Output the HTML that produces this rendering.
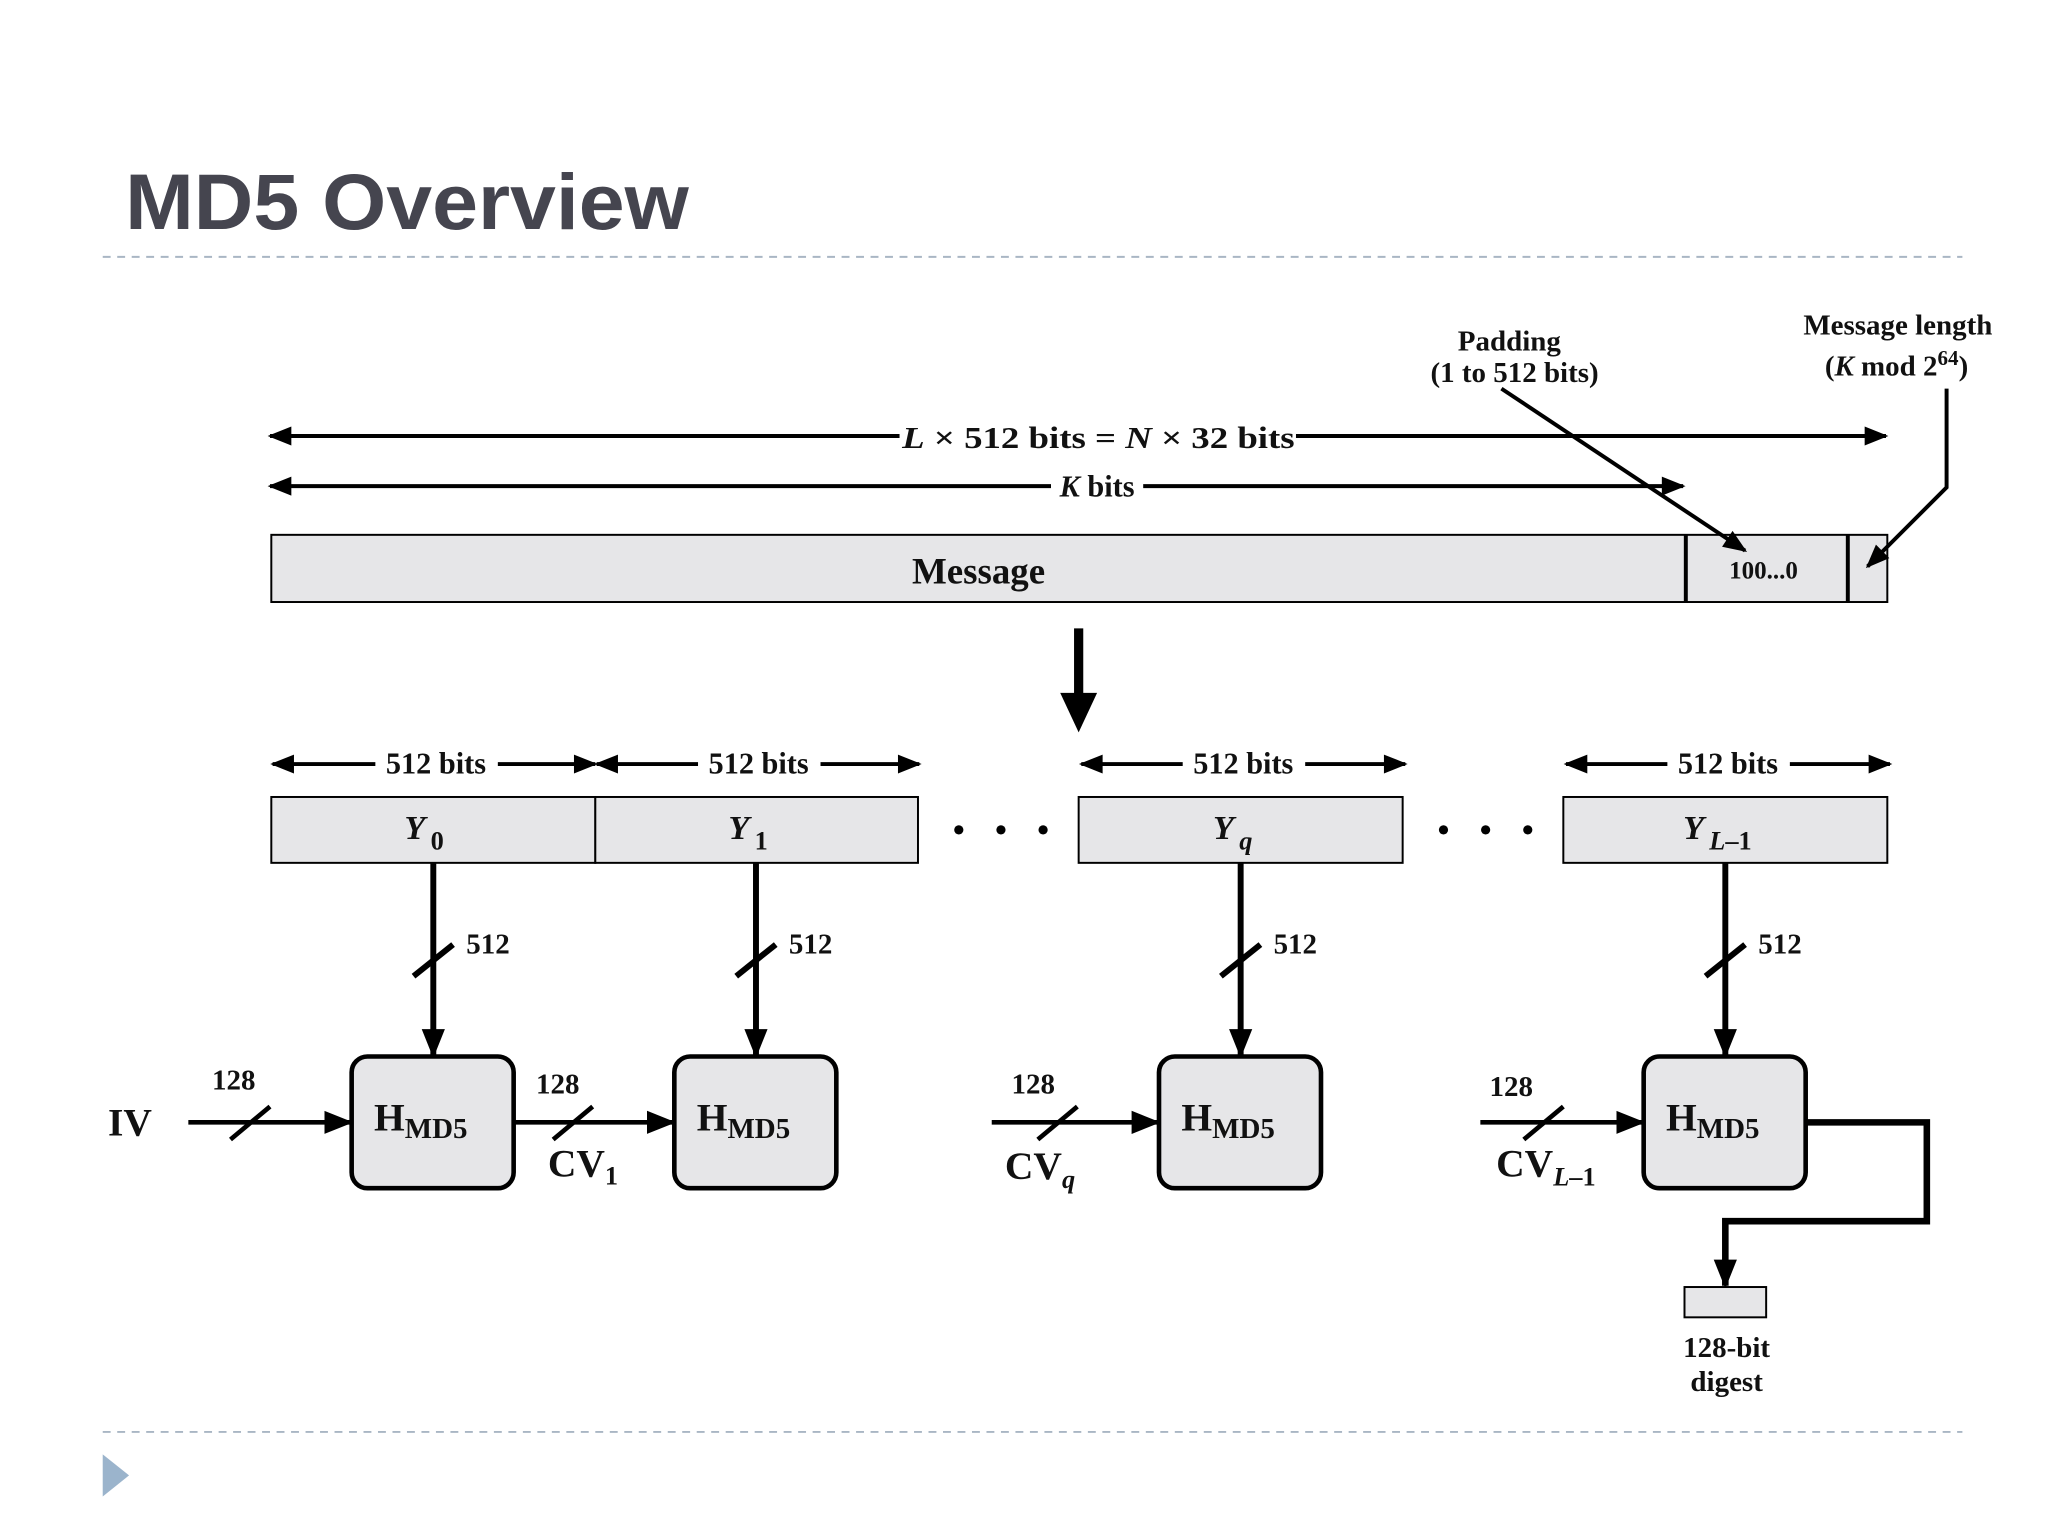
<!DOCTYPE html>
<html><head><meta charset="utf-8"><style>
html,body{margin:0;padding:0;background:#fff;}
svg{display:block;}
.t{font-family:"Liberation Serif",serif;font-weight:bold;fill:#111;}
</style></head><body>
<svg width="2048" height="1536" viewBox="0 0 1555 1166" preserveAspectRatio="none" xmlns="http://www.w3.org/2000/svg">
<defs>
<marker id="a" viewBox="0 0 10 10" refX="9" refY="5" markerWidth="22" markerHeight="22" markerUnits="userSpaceOnUse" orient="auto-start-reverse"><path d="M0,1L10,5L0,9z" fill="#000"/></marker>
<marker id="b" viewBox="0 0 10 10" refX="9" refY="5" markerWidth="24" markerHeight="18" markerUnits="userSpaceOnUse" orient="auto-start-reverse"><path d="M0,1L10,5L0,9z" fill="#000"/></marker>
</defs>
<text x="95" y="174" font-family="Liberation Sans,sans-serif" font-weight="bold" font-size="60" fill="#45454f" textLength="428" lengthAdjust="spacingAndGlyphs">MD5 Overview</text>
<line x1="78" y1="195" x2="1490" y2="195" stroke="#a9b6c4" stroke-width="1.5" stroke-dasharray="6,5"/>
<line x1="78" y1="1087" x2="1490" y2="1087" stroke="#a9b6c4" stroke-width="1.5" stroke-dasharray="6,5"/>
<path d="M78,1104L98,1120L78,1136z" fill="#9bb4cc"/>

<rect x="206" y="406" width="1227" height="51" fill="#e6e6e8" stroke="#000" stroke-width="1.5"/>
<line x1="1280" y1="406" x2="1280" y2="457" stroke="#000" stroke-width="3"/>
<line x1="1403" y1="406" x2="1403" y2="457" stroke="#000" stroke-width="3"/>
<text class="t" x="743" y="443" font-size="28" text-anchor="middle">Message</text>
<text class="t" x="1339" y="439" font-size="19" text-anchor="middle">100...0</text>

<g stroke="#000" stroke-width="3" fill="none">
<line x1="205" y1="331" x2="683" y2="331" marker-start="url(#b)"/>
<line x1="984" y1="331" x2="1432" y2="331" marker-end="url(#b)"/>
<line x1="205" y1="369" x2="798" y2="369" marker-start="url(#b)"/>
<line x1="868" y1="369" x2="1278" y2="369" marker-end="url(#b)"/>
<line x1="1140" y1="295" x2="1325" y2="418" marker-end="url(#b)"/>
<polyline points="1478,295 1478,370 1418,430" marker-end="url(#b)"/>
</g>
<text class="t" x="834" y="340" font-size="23" text-anchor="middle" textLength="298" lengthAdjust="spacingAndGlyphs"><tspan font-style="italic">L</tspan> × 512 bits = <tspan font-style="italic">N</tspan> × 32 bits</text>
<text class="t" x="833" y="377" font-size="23" text-anchor="middle"><tspan font-style="italic">K</tspan> bits</text>
<text class="t" x="1146" y="266" font-size="22" text-anchor="middle">Padding</text>
<text class="t" x="1150" y="290" font-size="22" text-anchor="middle">(1 to 512 bits)</text>
<text class="t" x="1441" y="254" font-size="22" text-anchor="middle">Message length</text>
<text class="t" x="1440" y="285" font-size="22" text-anchor="middle">(<tspan font-style="italic">K</tspan> mod 2<tspan dy="-8" font-size="16">64</tspan><tspan dy="8">)</tspan></text>

<line x1="819" y1="477" x2="819" y2="530" stroke="#000" stroke-width="7"/>
<path d="M805,526L833,526L819,556z" fill="#000"/>

<g stroke="#000" stroke-width="3">
<line x1="207" y1="580" x2="285" y2="580" marker-start="url(#b)"/>
<line x1="378" y1="580" x2="452" y2="580" marker-end="url(#b)"/>
<line x1="453" y1="580" x2="530" y2="580" marker-start="url(#b)"/>
<line x1="623" y1="580" x2="698" y2="580" marker-end="url(#b)"/>
<line x1="821" y1="580" x2="898" y2="580" marker-start="url(#b)"/>
<line x1="991" y1="580" x2="1067" y2="580" marker-end="url(#b)"/>
<line x1="1189" y1="580" x2="1266" y2="580" marker-start="url(#b)"/>
<line x1="1359" y1="580" x2="1435" y2="580" marker-end="url(#b)"/>
</g>
<g class="t" font-size="23" text-anchor="middle">
<text x="331" y="587">512 bits</text><text x="576" y="587">512 bits</text>
<text x="944" y="587">512 bits</text><text x="1312" y="587">512 bits</text>
</g>

<g fill="#e6e6e8" stroke="#000" stroke-width="1.5">
<rect x="206" y="605" width="246" height="50"/><rect x="452" y="605" width="245" height="50"/>
<rect x="819" y="605" width="246" height="50"/><rect x="1187" y="605" width="246" height="50"/>
</g>
<g class="t" font-size="26" text-anchor="middle" font-style="italic">
<text x="322" y="637">Y<tspan font-size="20" font-style="normal" dx="4" dy="8">0</tspan></text>
<text x="568" y="637">Y<tspan font-size="20" font-style="normal" dx="4" dy="8">1</tspan></text>
<text x="936" y="637">Y<tspan font-size="20" dx="4" dy="8">q</tspan></text>
<text x="1304" y="637">Y<tspan font-size="20" dx="4" dy="8">L</tspan><tspan font-size="20" font-style="normal" dy="0">–1</tspan></text>
</g>
<g fill="#000">
<circle cx="728" cy="630" r="3.5"/><circle cx="760" cy="630" r="3.5"/><circle cx="792" cy="630" r="3.5"/>
<circle cx="1096" cy="630" r="3.5"/><circle cx="1128" cy="630" r="3.5"/><circle cx="1160" cy="630" r="3.5"/>
</g>

<g stroke="#000" stroke-width="4.5">
<line x1="329" y1="655" x2="329" y2="801" marker-end="url(#a)"/>
<line x1="574" y1="655" x2="574" y2="801" marker-end="url(#a)"/>
<line x1="942" y1="655" x2="942" y2="801" marker-end="url(#a)"/>
<line x1="1310" y1="655" x2="1310" y2="801" marker-end="url(#a)"/>
<line x1="314" y1="741" x2="344" y2="717"/><line x1="559" y1="741" x2="589" y2="717"/>
<line x1="927" y1="741" x2="957" y2="717"/><line x1="1295" y1="741" x2="1325" y2="717"/>
</g>
<g class="t" font-size="22">
<text x="354" y="724">512</text><text x="599" y="724">512</text><text x="967" y="724">512</text><text x="1335" y="724">512</text>
</g>

<g fill="#e6e6e8" stroke="#000" stroke-width="3.5">
<rect x="267" y="802" width="123" height="100" rx="12"/><rect x="512" y="802" width="123" height="100" rx="12"/>
<rect x="880" y="802" width="123" height="100" rx="12"/><rect x="1248" y="802" width="123" height="100" rx="12"/>
</g>
<g class="t" font-size="30">
<text x="284" y="858">H<tspan font-size="22" dy="6">MD5</tspan></text>
<text x="529" y="858">H<tspan font-size="22" dy="6">MD5</tspan></text>
<text x="897" y="858">H<tspan font-size="22" dy="6">MD5</tspan></text>
<text x="1265" y="858">H<tspan font-size="22" dy="6">MD5</tspan></text>
</g>

<g stroke="#000" stroke-width="3.5" fill="none">
<line x1="143" y1="852" x2="266" y2="852" marker-end="url(#a)"/>
<line x1="390" y1="852" x2="511" y2="852" marker-end="url(#a)"/>
<line x1="753" y1="852" x2="879" y2="852" marker-end="url(#a)"/>
<line x1="1124" y1="852" x2="1247" y2="852" marker-end="url(#a)"/>
<line x1="175" y1="865" x2="205" y2="840"/><line x1="420" y1="865" x2="450" y2="840"/>
<line x1="788" y1="865" x2="818" y2="840"/><line x1="1157" y1="865" x2="1187" y2="840"/>
<polyline points="1371,852 1463,852 1463,927 1310,927 1310,976" stroke-width="5" marker-end="url(#a)"/>
</g>
<rect x="1279" y="977" width="62" height="23" fill="#e6e6e8" stroke="#000" stroke-width="1.5"/>
<g class="t" font-size="22">
<text x="161" y="827">128</text><text x="407" y="830">128</text><text x="768" y="830">128</text><text x="1131" y="832">128</text>
<text x="1311" y="1030" text-anchor="middle">128-bit</text><text x="1311" y="1056" text-anchor="middle">digest</text>
</g>
<g class="t" font-size="30">
<text x="82" y="862">IV</text>
<text x="416" y="893">CV<tspan font-size="20" dy="6">1</tspan></text>
<text x="763" y="895">CV<tspan font-size="20" dy="7" font-style="italic">q</tspan></text>
<text x="1136" y="893">CV<tspan font-size="20" dy="7" font-style="italic">L</tspan><tspan font-size="20">–1</tspan></text>
</g>
</svg>
</body></html>
